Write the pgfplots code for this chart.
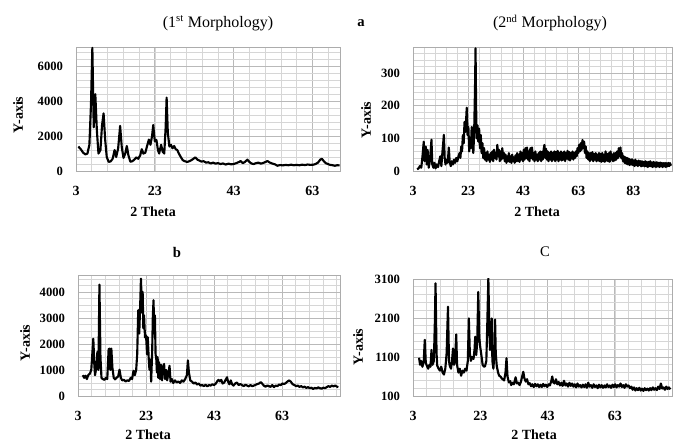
\documentclass[border=0pt]{standalone}
\usepackage{pgfplots}
\pgfplotsset{compat=1.18}
\usepackage{fontspec}
\setmainfont{Liberation Serif}
\pgfplotsset{
  panel/.style={
    scale only axis,
    axis line style={gray!65, line width=0.6pt},
    major tick length=0pt, minor tick length=0pt,
    xmajorgrids, ymajorgrids, xminorgrids, yminorgrids,
    major grid style={gray!55, line width=0.6pt},
    minor grid style={gray!32, line width=0.45pt},
    /pgf/number format/assume math mode=true,
    /pgf/number format/1000 sep={},
    xticklabel style={font=\bfseries\fontsize{10.5}{11}\selectfont, anchor=center, inner sep=0pt, yshift=-15pt},
    yticklabel style={font=\bfseries\fontsize{9.5}{10}\selectfont, anchor=east, inner sep=0pt, xshift=-9.5pt},
    xmin=3,
  },
  xrd/.style={black, line width=1.6pt, line join=round, mark=none},
}
\begin{document}
\begin{tikzpicture}
\useasboundingbox (0,0) rectangle (505.5pt,330.75pt);
% ---------------- Panel 1 ----------------
\begin{axis}[panel, at={(57pt,202.5pt)}, anchor=south west, width=198pt, height=93pt,
  xmax=70, ymin=0, ymax=7100,
  xtick={3,23,43,63}, minor xtick={7,11,...,70},
  ytick={0,2000,4000,6000}, minor ytick={400,800,...,7000}]
\addplot[xrd] table {
x y
3.6 1400
4.2 1250
4.8 1050
5.4 950
5.9 1000
6.4 1500
6.8 3800
7.15 7050
7.5 2500
7.9 4400
8.3 2300
8.7 1000
9.2 1200
9.6 2600
10.0 3300
10.4 1800
10.8 800
11.3 520
11.8 550
12.3 700
12.8 1200
13.2 800
13.7 1300
14.2 2580
14.6 1400
15.05 750
15.5 1000
15.9 1430
16.3 900
16.8 530
17.3 560
17.8 650
18.3 780
18.8 700
19.3 900
19.7 1250
20.1 1000
20.6 1050
21.0 1400
21.5 1800
21.9 1500
22.3 2000
22.6 2630
23.0 1700
23.4 1780
23.8 1200
24.1 1000
24.6 1500
25.0 1100
25.4 1000
25.75 2500
26.0 4200
26.3 2200
26.7 1400
27.1 1500
27.5 1300
27.9 1430
28.3 1250
28.7 1200
29.1 1000
29.6 800
30.1 620
30.6 560
31.2 520
31.8 560
32.3 620
32.8 700
33.3 780
33.8 650
34.3 600
34.8 540
35.4 560
36.0 480
36.6 500
37.2 430
37.8 480
38.4 420
39.0 450
39.7 400
40.3 430
41.0 370
41.7 420
42.4 380
43.0 400
43.7 450
44.4 520
44.8 570
45.3 450
45.9 520
46.5 650
47.0 520
47.5 430
48.1 400
48.7 450
49.3 480
49.9 420
50.5 460
51.1 520
51.6 570
52.2 480
52.8 430
53.5 380
54.1 300
54.8 340
55.5 320
56.2 350
56.9 330
57.6 360
58.3 330
59.0 350
59.7 330
60.4 360
61.1 340
61.8 370
62.5 350
63.2 360
63.8 400
64.4 480
65.0 650
65.4 700
65.9 560
66.4 450
66.9 400
67.5 350
68.1 330
68.7 300
69.3 330
69.9 320
};
\end{axis}
% ---------------- Panel 2 ----------------
\begin{axis}[panel, at={(309.75pt,202.5pt)}, anchor=south west, width=194.25pt, height=93pt,
  xmax=97, ymin=0, ymax=380,
  xtick={3,23,43,63,83}, minor xtick={7,11,...,97},
  ytick={0,100,200,300}, minor ytick={20,40,...,380}]
\addplot[xrd] table {
x y
4.5 5
5.0 8
5.5 15
6.0 10
6.5 50
6.9 90
7.2 30
7.6 75
8.0 20
8.3 65
8.7 10
9.1 30
9.4 60
9.7 96
10.0 20
10.4 10
10.8 25
11.2 8
11.6 20
12.1 12
12.5 30
12.9 45
13.3 15
13.7 60
14.0 90
14.2 111
14.5 40
14.8 20
15.2 35
15.6 25
16.0 72
16.3 30
16.7 15
17.1 30
17.5 20
17.9 35
18.3 25
18.7 40
19.1 30
19.5 45
19.9 55
20.2 40
20.5 75
20.8 60
21.1 110
21.4 85
21.7 150
22.0 120
22.3 160
22.5 194
22.8 110
23.1 135
23.4 60
23.7 100
24.0 70
24.3 135
24.6 80
24.9 55
25.2 120
25.5 250
25.7 376
25.9 200
26.1 100
26.4 140
26.7 90
27.0 130
27.3 70
27.6 110
27.9 55
28.2 85
28.5 40
28.8 70
29.1 35
29.4 55
29.7 30
30.0 60
30.3 35
30.6 50
30.9 28
31.2 55
31.5 35
31.8 60
32.1 30
32.4 65
32.7 40
33.0 55
33.3 35
33.6 80
33.9 45
34.2 65
34.5 30
34.8 60
35.1 35
35.4 70
35.7 40
36.0 55
36.3 30
36.6 50
36.9 25
37.2 45
37.5 30
37.8 55
38.1 28
38.4 45
38.7 25
39.0 50
39.3 30
39.6 42
39.9 25
40.2 48
40.5 30
40.8 55
41.1 30
41.4 50
41.7 28
42.0 60
42.3 35
42.6 55
42.9 30
43.2 65
43.5 35
43.8 70
44.1 40
44.4 72
44.7 35
45.0 60
45.3 30
45.6 70
45.9 40
46.2 72
46.5 35
46.8 55
47.1 30
47.4 60
47.7 35
48.0 50
48.3 30
48.6 55
48.9 35
49.2 60
49.5 30
49.8 58
50.1 35
50.4 65
50.7 80
51.0 40
51.3 68
51.6 35
51.9 60
52.2 30
52.5 55
52.8 35
53.1 60
53.4 30
53.7 55
54.0 35
54.3 60
54.6 30
54.9 58
55.2 35
55.5 62
55.8 30
56.1 55
56.4 35
56.7 60
57.0 32
57.3 55
57.6 35
57.9 60
58.2 30
58.5 55
58.8 38
59.1 62
59.4 35
59.7 58
60.0 32
60.3 55
60.6 38
60.9 60
61.2 35
61.5 55
61.8 40
62.1 60
62.4 45
62.7 70
63.0 55
63.3 80
63.6 60
63.9 85
64.2 65
64.5 95
64.8 70
65.1 90
65.4 55
65.7 75
66.0 40
66.3 60
66.6 35
66.9 55
67.2 30
67.5 55
67.8 35
68.1 58
68.4 30
68.7 52
69.0 35
69.3 55
69.6 30
69.9 50
70.2 32
70.5 55
70.8 30
71.1 52
71.4 28
71.7 55
72.0 30
72.3 50
72.6 28
72.9 60
73.2 32
73.5 52
73.8 30
74.1 55
74.4 28
74.7 60
75.0 35
75.3 50
75.6 30
75.9 55
76.2 32
76.5 55
76.8 35
77.1 60
77.4 40
77.7 70
78.0 45
78.3 72
78.6 40
78.9 55
79.2 30
79.5 45
79.8 25
80.1 42
80.4 22
80.7 40
81.0 20
81.3 38
81.6 18
81.9 35
82.2 20
82.5 36
82.8 18
83.1 32
83.4 15
83.7 35
84.0 18
84.3 30
84.6 15
84.9 32
85.2 18
85.5 30
85.8 14
86.1 30
86.4 16
86.7 28
87.0 14
87.3 30
87.6 15
87.9 28
88.2 12
88.5 28
88.8 15
89.1 30
89.4 14
89.7 26
90.0 12
90.3 28
90.6 14
90.9 26
91.2 12
91.5 27
91.8 14
92.1 25
92.4 12
92.7 26
93.0 14
93.3 25
93.6 12
93.9 24
94.2 14
94.5 25
94.8 12
95.1 24
95.4 14
95.7 25
96.0 15
96.3 24
96.6 16
};
\end{axis}
% ---------------- Panel 3 ----------------
\begin{axis}[panel, at={(58.5pt,33.75pt)}, anchor=south west, width=196.5pt, height=90.75pt,
  xmax=80, ymin=0, ymax=4650,
  xtick={3,23,43,63}, minor xtick={7,11,...,80},
  ytick={0,1000,2000,3000,4000}, minor ytick={250,500,...,4650}]
\addplot[xrd] table {
x y
4.4 800
4.8 700
5.2 780
5.6 650
6.0 800
6.5 860
6.9 1000
7.3 1800
7.5 2200
7.8 1200
8.0 800
8.4 1100
8.7 1700
9.0 1000
9.3 4280
9.6 1500
9.9 700
10.3 650
10.8 620
11.2 700
11.6 650
12.0 1800
12.3 1820
12.5 1000
12.8 1820
13.1 1100
13.5 700
13.9 640
14.3 700
14.8 750
15.2 1010
15.6 700
16.0 600
16.5 620
17.0 560
17.5 600
18.0 580
18.5 700
18.9 650
19.3 970
19.7 800
20.1 1010
20.4 1600
20.7 3300
21.0 2400
21.3 3600
21.5 4510
21.8 3200
22.0 4000
22.2 2600
22.4 3100
22.7 2250
23.0 2330
23.3 1600
23.5 2260
23.8 1400
24.0 1010
24.3 1400
24.5 550
24.8 1720
25.0 3100
25.2 3680
25.4 2400
25.6 3100
25.8 1600
26.0 1440
26.2 900
26.4 1500
26.6 700
26.8 1300
27.1 650
27.4 1200
27.7 600
28.0 1100
28.3 1230
28.6 650
28.9 1000
29.2 600
29.6 900
29.9 1160
30.2 550
30.6 650
31.0 500
31.5 600
32.0 520
32.5 560
33.0 500
33.5 600
34.0 550
34.5 650
35.0 800
35.3 1370
35.6 900
36.0 600
36.5 550
37.0 480
37.5 520
38.0 440
38.5 480
39.0 400
39.5 420
40.0 380
40.5 430
41.0 370
41.5 420
42.0 400
42.5 450
43.0 420
43.5 480
44.0 580
44.3 620
44.7 560
45.1 620
45.5 480
46.0 520
46.5 650
46.8 720
47.1 550
47.5 450
47.9 600
48.3 450
48.7 400
49.2 480
49.7 520
50.2 420
50.7 460
51.2 420
51.7 380
52.2 430
52.7 400
53.2 370
53.7 420
54.2 380
54.7 400
55.2 430
55.7 460
56.2 480
56.7 530
57.1 480
57.6 400
58.1 360
58.6 400
59.1 380
59.6 350
60.1 420
60.6 340
61.1 400
61.6 380
62.1 440
62.6 420
63.1 480
63.6 460
64.1 500
64.6 560
65.1 600
65.6 540
66.1 450
66.6 420
67.1 380
67.6 400
68.1 350
68.6 380
69.1 330
69.6 360
70.1 310
70.6 340
71.1 300
71.6 320
72.1 270
72.6 310
73.1 290
73.6 330
74.1 300
74.6 280
75.1 320
75.6 300
76.1 340
76.6 380
77.1 350
77.6 400
78.1 370
78.6 400
79.1 360
79.5 340
};
\end{axis}
% ---------------- Panel 4 ----------------
\begin{axis}[panel, at={(309.75pt,33.75pt)}, anchor=south west, width=194.25pt, height=87.75pt,
  xmax=80, ymin=100, ymax=3100,
  xtick={3,23,43,63}, minor xtick={7,11,...,80},
  ytick={100,1100,2100,3100}, minor ytick={300,500,...,3100}]
\addplot[xrd] table {
x y
4.8 1080
5.1 900
5.4 1000
5.8 850
6.2 1000
6.5 1540
6.8 950
7.1 880
7.5 800
7.9 900
8.2 850
8.5 1280
8.8 900
9.2 1000
9.5 2000
9.7 2990
10.0 1200
10.2 880
10.6 800
11.0 750
11.4 850
11.8 700
12.2 650
12.6 800
13.0 1200
13.4 2390
13.7 1000
13.9 880
14.3 800
14.6 1000
14.9 1320
15.2 900
15.5 1000
15.85 1680
16.1 900
16.5 700
16.9 800
17.3 620
17.7 750
18.1 700
18.5 800
18.9 750
19.3 1000
19.6 2090
19.9 1200
20.2 1000
20.6 1100
21.0 1050
21.3 1300
21.5 1620
21.8 1150
22.1 1500
22.4 2770
22.7 1600
23.0 1350
23.4 1100
23.7 900
24.1 850
24.4 860
24.8 1000
25.1 2000
25.4 3120
25.7 1800
25.9 1280
26.2 1600
26.4 2090
26.6 1000
26.9 800
27.2 1200
27.4 2060
27.6 1200
27.9 870
28.3 700
28.6 620
29.0 600
29.4 550
29.8 520
30.1 500
30.5 700
30.8 1070
31.1 600
31.5 450
31.9 480
32.2 380
32.6 440
33.0 400
33.5 580
33.9 420
34.3 440
34.7 380
35.1 470
35.5 620
35.8 720
36.1 560
36.5 470
36.9 530
37.3 400
37.7 430
38.1 350
38.5 400
38.9 330
39.3 410
39.7 350
40.1 400
40.5 330
40.9 390
41.3 330
41.7 410
42.1 350
42.5 390
42.9 330
43.3 400
43.7 370
44.1 480
44.4 600
44.7 450
45.1 420
45.5 530
45.9 400
46.3 460
46.7 370
47.1 440
47.5 360
47.9 490
48.3 370
48.7 420
49.1 340
49.5 440
49.9 360
50.3 420
50.7 340
51.1 400
51.5 320
51.9 420
52.3 340
52.7 380
53.1 320
53.5 390
53.9 330
54.3 400
54.7 310
55.1 440
55.5 340
55.9 380
56.3 310
56.7 400
57.1 330
57.5 370
57.9 300
58.3 390
58.7 320
59.1 380
59.5 310
59.9 370
60.3 320
60.7 400
61.1 330
61.5 370
61.9 310
62.3 390
62.7 330
63.1 400
63.5 320
63.9 380
64.3 340
64.7 420
65.1 330
65.5 380
65.9 310
66.3 400
66.7 340
67.1 370
67.5 300
67.9 340
68.3 260
68.7 320
69.1 240
69.5 300
69.9 250
70.3 310
70.7 240
71.1 290
71.5 230
71.9 300
72.3 250
72.7 290
73.1 240
73.5 300
73.9 250
74.3 320
74.7 260
75.1 300
75.5 250
75.9 340
76.3 280
76.7 420
77.1 290
77.5 320
77.9 260
78.3 340
78.7 280
79.1 320
79.5 270
};
\end{axis}
% ---------------- Texts ----------------
\node[font=\fontsize{12}{14}\selectfont] at (163.5pt,313.5pt) {(1\textsuperscript{st} Morphology)};
\node[font=\bfseries\fontsize{11}{13}\selectfont] at (270.75pt,313.5pt) {a};
\node[font=\fontsize{12}{14}\selectfont] at (412.5pt,313.5pt) {(2\textsuperscript{nd} Morphology)};
\node[font=\bfseries\fontsize{11}{13}\selectfont] at (132.75pt,141.75pt) {b};
\node[font=\fontsize{11}{13}\selectfont] at (408.75pt,141.75pt) {C};
\node[font=\bfseries\fontsize{10.5}{12}\selectfont] at (114.75pt,171.75pt) {2 Theta};
\node[font=\bfseries\fontsize{10.5}{12}\selectfont] at (402.75pt,171.75pt) {2 Theta};
\node[font=\bfseries\fontsize{10.5}{12}\selectfont] at (111pt,4.5pt) {2 Theta};
\node[font=\bfseries\fontsize{10.5}{12}\selectfont] at (400.5pt,4.5pt) {2 Theta};
\node[font=\bfseries\fontsize{10.5}{12}\selectfont, rotate=90] at (13.5pt,244.5pt) {Y-axis};
\node[font=\bfseries\fontsize{10.5}{12}\selectfont, rotate=90] at (274.5pt,240.75pt) {Y-axis};
\node[font=\bfseries\fontsize{10.5}{12}\selectfont, rotate=90] at (18.75pt,73.5pt) {Y-axis};
\node[font=\bfseries\fontsize{10.5}{12}\selectfont, rotate=90] at (268.5pt,70.5pt) {Y-axis};
\end{tikzpicture}
\end{document}
